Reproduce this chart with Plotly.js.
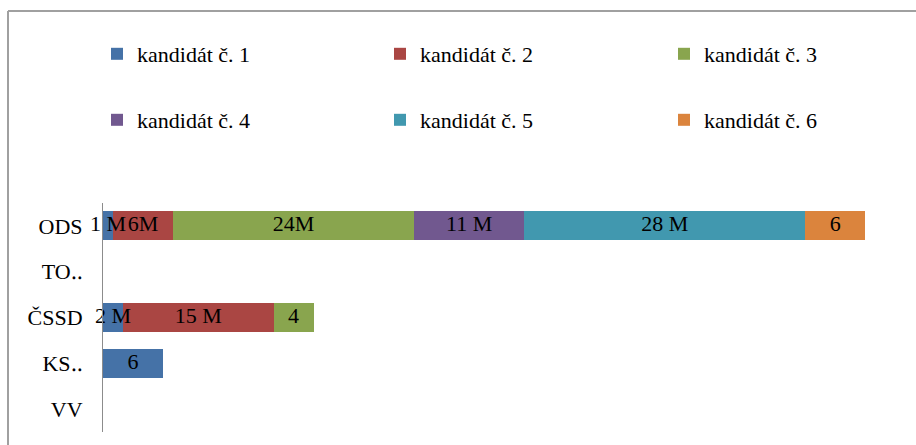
<!DOCTYPE html>
<html>
<head>
<meta charset="utf-8">
<script src="https://cdn.plot.ly/plotly-3.0.1.min.js"></script>
<style>html,body{margin:0;padding:0;background:#fff}#chart{width:916px;height:445px}</style>
</head>
<body>
<div id="chart"></div>
<script>
// Categories (bottom to top, as in the reference)
const categories = ["VV", "KS‥", "ČSSD", "TO‥", "ODS"];
const seriesNames = ["kandidát č. 1", "kandidát č. 2", "kandidát č. 3", "kandidát č. 4", "kandidát č. 5", "kandidát č. 6"];
const cand1 = [null, 6, 2, null, 1];
const cand2 = [null, null, 15, null, 6];
const cand3 = [null, null, 4, null, 24];
const cand4 = [null, null, null, null, 11];
const cand5 = [null, null, null, null, 28];
const cand6 = [null, null, null, null, 6];
const labels1 = ["", "6", "2 M", "", "1 M"];
const labels2 = ["", "", "15 M", "", "6M"];
const labels3 = ["", "", "4", "", "24M"];
const labels4 = ["", "", "", "", "11 M"];
const labels5 = ["", "", "", "", "28 M"];
const labels6 = ["", "", "", "", "6"];
const colors = ["#4572A7", "#AA4643", "#89A54E", "#71588F", "#4198AF", "#DB843D"];

const values = [cand1, cand2, cand3, cand4, cand5, cand6];
const texts = [labels1, labels2, labels3, labels4, labels5, labels6];

const W = 916, H = 445;
const mL = 103, mR = 26, mT = 203, mB = 13;
const pw = W - mL - mR, ph = H - mT - mB;
const px2x = p => (p - mL) / pw;
const px2y = p => (H - mB - p) / ph;

const font = "Liberation Serif";
const fs = 22;

// legend grid: 3 columns x 2 rows (pixel positions)
const legCols = [97, 380, 664];
const legRows = [54, 120];
const legendIds = ["legend", "legend2", "legend3", "legend4", "legend5", "legend6"];

const traces = values.map((v, i) => ({
  type: "bar",
  orientation: "h",
  name: seriesNames[i],
  y: categories,
  x: v,
  marker: {color: colors[i], line: {width: 0}},
  legend: legendIds[i],
  hoverinfo: "skip"
}));

// Data labels drawn above all bars, centred on each stacked segment
const base = categories.map(() => 0);
values.forEach((v, i) => {
  const lx = [], ly = [], lt = [];
  v.forEach((val, j) => {
    if (val != null && texts[i][j]) {
      lx.push(base[j] + val / 2);
      ly.push(categories[j]);
      lt.push(texts[i][j]);
    }
    if (val != null) base[j] += val;
  });
  traces.push({
    type: "scatter", mode: "text", x: lx, y: ly, text: lt,
    textposition: "middle center",
    textfont: {family: font, size: fs, color: "#000"},
    showlegend: false, cliponaxis: false, hoverinfo: "skip"
  });
});

const layout = {
  width: W, height: H,
  font: {family: font, size: fs, color: "#000"},
  margin: {l: mL, r: mR, t: mT, b: mB},
  paper_bgcolor: "#fff",
  plot_bgcolor: "#fff",
  barmode: "stack",
  bargap: 0.37,
  showlegend: true,
  xaxis: {range: [0, pw / 10.03], visible: false, fixedrange: true},
  yaxis: {
    type: "category",
    categoryorder: "array",
    categoryarray: categories,
    range: [-0.5, 4.5],
    showline: true, linecolor: "#8c8c8c", linewidth: 1,
    showgrid: false, zeroline: false, ticks: "",
    ticklabelstandoff: 15,
    tickfont: {family: font, size: 22, color: "#000"}
  },
  shapes: [
    {type: "line", xref: "paper", yref: "paper", x0: px2x(8), x1: px2x(930), y0: px2y(11), y1: px2y(11), line: {color: "#a0a0a0", width: 2}},
    {type: "line", xref: "paper", yref: "paper", x0: px2x(8), x1: px2x(8), y0: px2y(11), y1: px2y(460), line: {color: "#a0a0a0", width: 2}}
  ]
};

legendIds.forEach((id, i) => {
  layout[id] = {
    orientation: "h",
    xanchor: "left",
    yanchor: "middle",
    x: px2x(legCols[i % 3]),
    y: px2y(legRows[Math.floor(i / 3)]),
    font: {family: font, size: fs, color: "#000"},
    bgcolor: "rgba(0,0,0,0)",
    borderwidth: 0
  };
});

Plotly.newPlot("chart", traces, layout, {staticPlot: true, displayModeBar: false});
</script>
</body>
</html>
